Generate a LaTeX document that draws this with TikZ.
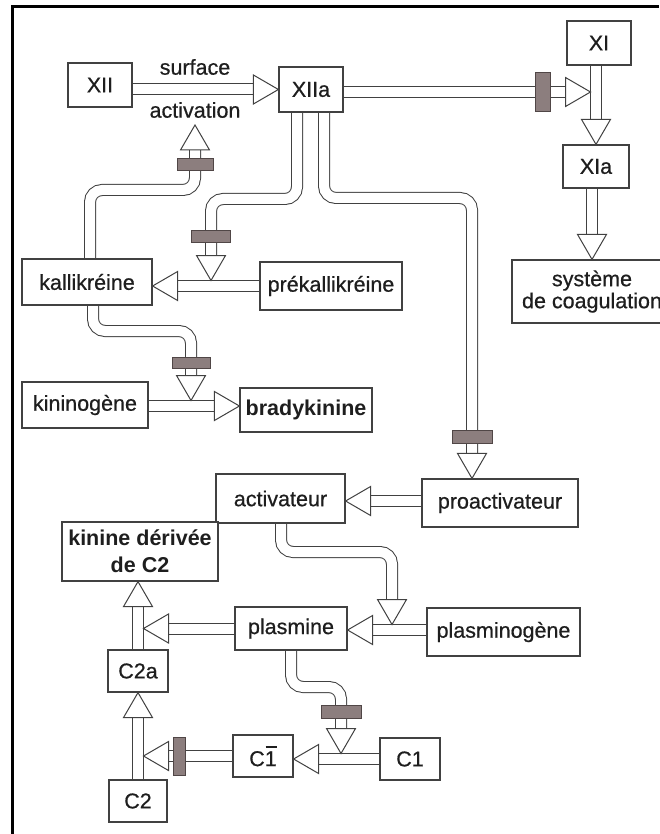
\documentclass[tikz,border=0pt]{standalone}
\usepackage{fontspec}
\setmainfont{Liberation Sans}[UprightFeatures={FakeBold=0.6}]
\usetikzlibrary{calc}

\definecolor{ink}{RGB}{30,30,30}
\definecolor{edge}{RGB}{65,65,65}
\definecolor{barfill}{RGB}{140,126,126}
\definecolor{barline}{RGB}{80,70,70}

\pgfdeclarelayer{back}
\pgfsetlayers{back,main}

\tikzset{
  txt/.style={text=ink, font=\fontsize{21.5}{25}\selectfont},
  box/.style={txt, draw=edge, line width=1.2pt, fill=white, inner sep=0pt, align=center},
  shaft/.style={draw=edge, line width=1pt, double=white, double distance=10pt, rounded corners=12pt},
  blocker/.style={draw=barline, fill=barfill, line width=0.9pt, inner sep=0pt},
  hhead/.pic={\draw[draw=edge, fill=white, line width=1pt, line join=miter] (0,0) -- (-25,14.5) -- (-25,-14.5) -- cycle;},
}
% hollow arrow head: tip position, direction in degrees
\newcommand\headat[2]{\pic[rotate=#2] at (#1) {hhead};}

\begin{document}
\begin{tikzpicture}[x=1pt,y=-1pt]
\useasboundingbox (0,0) rectangle (659,834);

% boxes
\node[box, minimum width=64, minimum height=44] (XII) at (100,85) {XII};
\node[box, minimum width=64, minimum height=45] (XIIa) at (311,89.5) {XIIa};
\node[box, minimum width=64, minimum height=44] (XI) at (599,43) {XI};
\node[box, minimum width=66, minimum height=43] (XIa) at (596,166.5) {XIa};
\node[box, minimum width=160, minimum height=63, font=\fontsize{21.5}{22}\selectfont] (coag) at (592,291.5) {système\\de coagulation};
\node[box, minimum width=130, minimum height=46] (kal) at (87,282) {kallikréine};
\node[box, minimum width=142, minimum height=48] (prekal) at (331,286) {prékallikréine};
\node[box, minimum width=126, minimum height=46] (kin) at (85,405) {kininogène};
\node[box, minimum width=132, minimum height=44, font=\fontsize{21.5}{25}\selectfont\bfseries] (brady) at (306,410) {bradykinine};
\node[box, minimum width=129, minimum height=49] (activ) at (280.5,498.5) {activateur};
\node[box, minimum width=156, minimum height=48] (proact) at (500,503) {proactivateur};
\node[box, minimum width=156, minimum height=59, font=\fontsize{21.5}{27}\selectfont\bfseries] (kinC) at (140,551.5) {kinine dérivée\\de C2};
\node[box, minimum width=112, minimum height=43] (plas) at (291,628.5) {plasmine};
\node[box, minimum width=153, minimum height=48] (plasg) at (503.5,632) {plasminogène};
\node[box, minimum width=60, minimum height=42] (C2a) at (138,671) {C2a};
\node[box, minimum width=60, minimum height=42] (C1b) at (263,756) {C1\llap{\raisebox{18pt}{\rule{11pt}{2.4pt}}}};
\node[box, minimum width=60, minimum height=42] (C1) at (410,759) {C1};
\node[box, minimum width=58, minimum height=42] (C2) at (138,801) {C2};

% labels of the activation step
\node[txt] (surf) at (195,67) {surface};
\node[txt] (actn) at (195,110) {activation};

% inhibition bars
\node[blocker, minimum width=15, minimum height=39] (b1) at (542.5,92) {};
\node[blocker, minimum width=36, minimum height=12] (b2) at (195,164) {};
\node[blocker, minimum width=39, minimum height=12] (b3) at (211,236) {};
\node[blocker, minimum width=40, minimum height=13] (b4) at (472,436.5) {};
\node[blocker, minimum width=38, minimum height=11] (b5) at (191,362.5) {};
\node[blocker, minimum width=40, minimum height=13] (b6) at (341,711.5) {};
\node[blocker, minimum width=12, minimum height=38] (b7) at (179,756) {};

% arrow tips that land on other arrows
\coordinate (t2) at ($(XIa.north |- XIIa.east)+(-5.5,2.5)$);
\coordinate (tC) at (195,125);
\coordinate (tA) at (211,280.5);
\coordinate (tB) at (proact.north -| b4);
\coordinate (tK) at (kal.east |- prekal.west);
\coordinate (tD) at (191,400.5);
\coordinate (tKB) at ($(brady.west)+(0,-4)$);
\coordinate (tPA) at ($(activ.east)+(0,2.5)$);
\coordinate (tE) at (392,624.5);
\coordinate (tPP) at ($(plas.east)+(0,1.5)$);
\coordinate (tPC) at ($(plas.west -| C2a.north)+(5.5,0)$);
\coordinate (tKC) at (kinC.south -| C2a.north);
\coordinate (tCC) at ($(C1b.west -| C2.north)+(5.5,0)$);
\coordinate (tC1) at (C1b.east |- C1.west);
\coordinate (tF) at (341,753.5);

\begin{pgfonlayer}{back}
\fill[white] (0,0) rectangle (659,834);
\draw[shaft] (XII.east |- XIIa.west) -- ($(XIIa.west)+(-24,0)$);
\draw[shaft] ($(XIIa.east)+(0,2.5)$) -- ($(t2)+(-24,0)$);
\draw[shaft] (XIa.north |- XI.south) -- ($(XIa.north)+(0,-24)$);
\draw[shaft] (coag.north |- XIa.south) -- ($(coag.north)+(0,-24)$);
\draw[shaft] ($(kal.north)+(3,0)$) -- (90,190) -- (195,190) -- ($(tC)+(0,24)$);
\draw[shaft] ($(XIIa.south)+(-14,0)$) -- (297,199) -- (211,199) -- ($(tA)+(0,-24)$);
\draw[shaft] ($(XIIa.south)+(13,0)$) -- (324,198) -- (472,198) -- ($(tB)+(0,-24)$);
\draw[shaft] (prekal.west) -- ($(tK)+(24,0)$);
\draw[shaft] ($(kal.south)+(6,0)$) -- (93,331) -- (191,331) -- ($(tD)+(0,-24)$);
\draw[shaft] ($(kin.east)+(0,1)$) -- ($(tKB)+(-24,0)$);
\draw[shaft] ($(proact.west)+(0,-2)$) -- ($(tPA)+(24,0)$);
\draw[shaft] ($(activ.south)+(0.5,0)$) -- (281,552) -- (392,552) -- ($(tE)+(0,-24)$);
\draw[shaft] ($(plasg.west)+(0,-2)$) -- ($(tPP)+(24,0)$);
\draw[shaft] (plas.west) -- ($(tPC)+(24,0)$);
\draw[shaft] (C2a.north) -- ($(tKC)+(0,24)$);
\draw[shaft] (C2.north) -- ($(C2a.south)+(0,24)$);
\draw[shaft] (C1b.west) -- ($(tCC)+(24,0)$);
\draw[shaft] (C1.west) -- ($(tC1)+(24,0)$);
\draw[shaft] (plas.south) -- (291,687) -- (341,687) -- ($(tF)+(0,-24)$);
\end{pgfonlayer}

% arrow heads
\headat{XIIa.west}{0}
\headat{t2}{0}
\headat{XIa.north}{-90}
\headat{coag.north}{-90}
\headat{tC}{90}
\headat{tA}{-90}
\headat{tB}{-90}
\headat{tK}{180}
\headat{tD}{-90}
\headat{tKB}{0}
\headat{tPA}{180}
\headat{tE}{-90}
\headat{tPP}{180}
\headat{tPC}{180}
\headat{tKC}{90}
\headat{C2a.south}{90}
\headat{tCC}{180}
\headat{tC1}{180}
\headat{tF}{-90}

% page frame
\draw[line width=3pt, line join=miter] (12.5,834) -- (12.5,6.5) -- (659,6.5);
\end{tikzpicture}
\end{document}
